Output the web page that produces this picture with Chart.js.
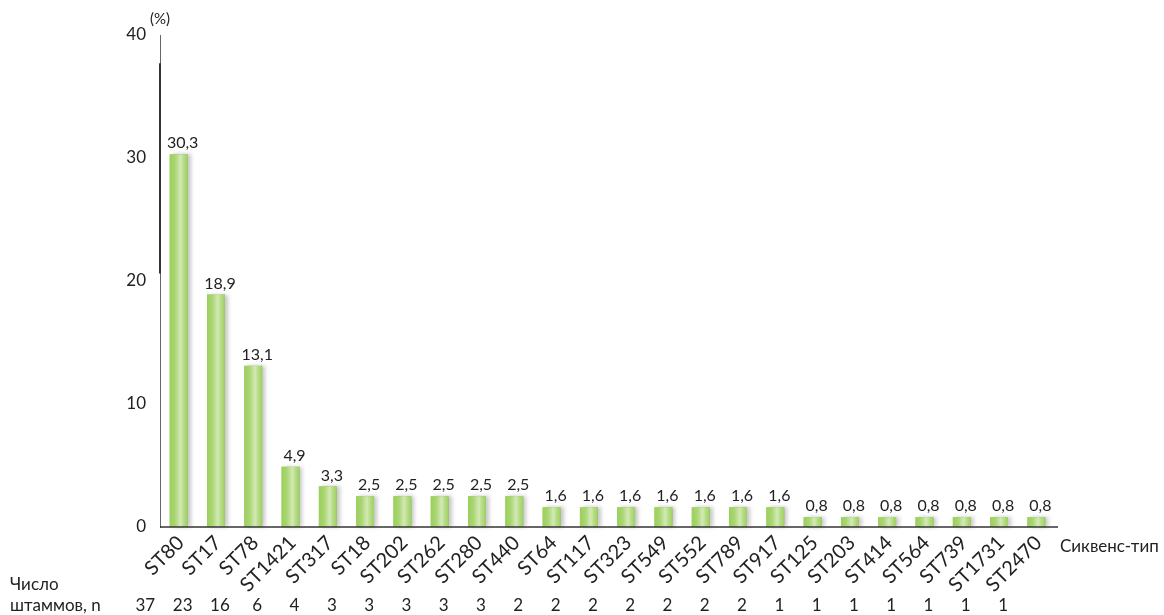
<!DOCTYPE html>
<html>
<head>
<meta charset="utf-8">
<script src="https://cdn.jsdelivr.net/npm/chart.js@4"></script>
<style>
  html, body { margin: 0; padding: 0; background: #fff; }
  #wrap { position: relative; width: 1164px; height: 615px; }
</style>
</head>
<body>
<div id="wrap"><canvas id="st-chart" width="1164" height="615"></canvas></div>
<script>
// sequence types, share of strains (%) and strain counts
var seqTypes = ["ST80", "ST17", "ST78", "ST1421", "ST317", "ST18", "ST202", "ST262", "ST280", "ST440",
  "ST64", "ST117", "ST323", "ST549", "ST552", "ST789", "ST917", "ST125", "ST203", "ST414",
  "ST564", "ST739", "ST1731", "ST2470"];
var shares = [30.3, 18.9, 13.1, 4.9, 3.3, 2.5, 2.5, 2.5, 2.5, 2.5,
  1.6, 1.6, 1.6, 1.6, 1.6, 1.6, 1.6, 0.8, 0.8, 0.8,
  0.8, 0.8, 0.8, 0.8];
var strainCounts = [37, 23, 16, 6, 4, 3, 3, 3, 3, 3, 2, 2, 2, 2, 2, 2, 2, 1, 1, 1, 1, 1, 1, 1];
var yTicks = [0, 10, 20, 30, 40];

var FONT = "Lato, 'Noto Sans', sans-serif";

// gradient bars + value labels + extra texts
var decor = {
  id: 'decor',
  afterDatasetsDraw: function(chart) {
    var ctx = chart.ctx;
    var meta = chart.getDatasetMeta(0);
    ctx.save();
    meta.data.forEach(function(bar, i) {
      var w = bar.width, x0 = bar.x - w / 2, y0 = bar.y, h = bar.base - bar.y;
      var g = ctx.createLinearGradient(x0, 0, x0 + w, 0);
      g.addColorStop(0, '#9bcf5c');
      g.addColorStop(0.3, '#a9d672');
      g.addColorStop(0.6, '#d3e9b6');
      g.addColorStop(0.8, '#b4db82');
      g.addColorStop(1, '#9fd063');
      ctx.save();
      ctx.shadowColor = 'rgba(0,0,0,0.22)';
      ctx.shadowOffsetX = 3;
      ctx.shadowBlur = 4;
      ctx.fillStyle = g;
      ctx.fillRect(x0, y0, w, h);
      ctx.restore();
      // value label
      ctx.fillStyle = '#222';
      ctx.font = '16px ' + FONT;
      ctx.textAlign = 'center';
      ctx.textBaseline = 'bottom';
      ctx.fillText(String(shares[i]).replace('.', ','), bar.x + 4, bar.y - 3);
    });

    // strain count row (shifted one column left as in the source figure)
    var xs = chart.scales.x;
    var step = xs.getPixelForValue(1) - xs.getPixelForValue(0);
    ctx.font = '17px ' + FONT;
    ctx.fillStyle = '#222';
    ctx.textAlign = 'center';
    ctx.textBaseline = 'middle';
    strainCounts.forEach(function(n, i) {
      ctx.fillText(String(n), xs.getPixelForValue(i) - step + 4, 606);
    });
    ctx.textAlign = 'left';
    ctx.fillText('Число', 10, 585);
    ctx.fillText('штаммов, n', 10, 606);
    ctx.fillText('Сиквенс-тип', 1060, 547);

    // axis decorations
    var ys = chart.scales.y;
    ctx.font = '15px ' + FONT;
    ctx.textAlign = 'left';
    ctx.fillText('(%)', 150, 19);
    ctx.strokeStyle = '#333';
    ctx.lineWidth = 2;
    ctx.beginPath();
    ctx.moveTo(chart.chartArea.left, ys.getPixelForValue(37.7));
    ctx.lineTo(chart.chartArea.left, ys.getPixelForValue(20.6));
    ctx.stroke();
    ctx.lineWidth = 1.5;
    ctx.beginPath();
    ctx.moveTo(chart.chartArea.left, chart.chartArea.bottom);
    ctx.lineTo(chart.chartArea.right + 3, chart.chartArea.bottom);
    ctx.stroke();
    ctx.restore();
  }
};

(function() {
  var ctx = document.getElementById('st-chart');
  var stChart = new Chart(ctx, {
    type: 'bar',
    data: {
      labels: seqTypes,
      datasets: [{
        label: '%',
        data: shares,
        backgroundColor: '#a5d36a',
        borderWidth: 0,
        barPercentage: 0.6,
        categoryPercentage: 0.8
      }]
    },
    options: {
      responsive: false,
      animation: false,
      devicePixelRatio: 1,
      layout: { padding: { left: 0, right: 109, top: 35, bottom: 0 } },
      plugins: { legend: { display: false }, tooltip: { enabled: false } },
      scales: {
        x: {
          grid: { display: false, drawTicks: false },
          border: { display: false },
          ticks: {
            color: '#222',
            font: { family: FONT, size: 20 },
            minRotation: 45,
            maxRotation: 45,
            padding: 4,
            labelOffset: 2,
            autoSkip: false
          },
          afterFit: function(scale) { scale.height = 88; }
        },
        y: {
          min: 0,
          max: 40,
          afterBuildTicks: function(scale) {
            scale.ticks = yTicks.map(function(v) { return { value: v }; });
          },
          grid: { display: false, drawTicks: false },
          border: { display: true, color: '#666', width: 1 },
          ticks: {
            color: '#222',
            font: { family: FONT, size: 17 },
            padding: 14
          },
          afterFit: function(scale) { scale.width = 160; }
        }
      }
    },
    plugins: [decor]
  });
})();
</script>
</body>
</html>
